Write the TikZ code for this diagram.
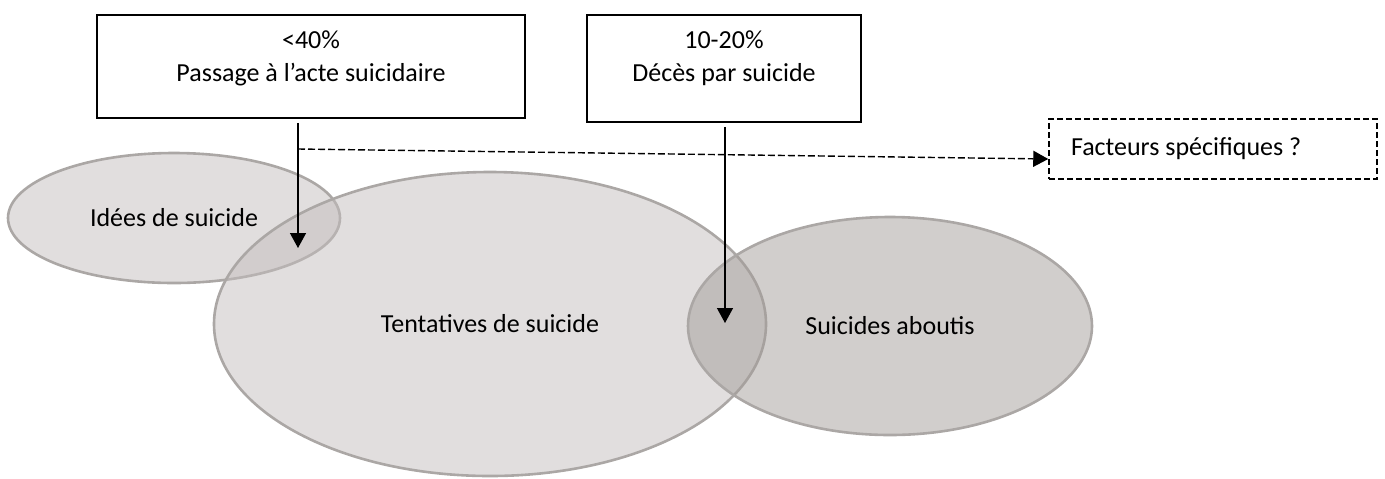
\documentclass[tikz,border=0pt]{standalone}
\usepackage{fontspec}
\setmainfont{Carlito}
\usetikzlibrary{shapes.geometric, arrows.meta, positioning}
\definecolor{lightfill}{RGB}{195,189,189}
\definecolor{darkfill}{RGB}{163,157,153}
\definecolor{rimgray}{RGB}{171,167,165}

\begin{document}
\begin{tikzpicture}[x=0.5pt, y=-0.5pt,
  every node/.style={font=\fontsize{13}{16.5}\selectfont},
  set/.style={ellipse, draw=rimgray, line width=1.3pt, fill opacity=0.5, text opacity=1, inner sep=0pt},
  box/.style={draw, line width=0.75pt, inner sep=0pt},
  dbox/.style={draw, dash pattern=on 3pt off 1.5pt, line width=0.75pt, inner sep=0pt},
  tip/.style={-{Triangle[length=7.5pt,width=8pt]}, line width=0.7pt}]
\useasboundingbox (0,0) rectangle (1385,478);
\node[set, fill=lightfill, minimum width=166pt, minimum height=65pt] (idees) at (174,218) {Idées de suicide};
\node[set, fill=lightfill, minimum width=276pt, minimum height=152pt] (tentatives) at (490,324) {Tentatives de suicide};
\node[set, fill=darkfill, minimum width=202pt, minimum height=109pt] (aboutis) at (890,326) {Suicides aboutis};
\node[box, minimum width=214pt, minimum height=51.5pt] (passage) at (311,66.5) {};
\node[align=center] (passagetxt) at (311,58.5) {<40\%\\Passage à l’acte suicidaire};
\node[box, minimum width=137pt, minimum height=53.5pt] (deces) at (724,68.5) {};
\node[align=center] (decestxt) at (724,58.5) {10-20\%\\Décès par suicide};
\node[dbox, minimum height=30pt, text width=142pt, inner xsep=11pt, align=flush left] (facteurs) at (1213,149) {Facteurs spécifiques ?};
\coordinate (end1) at (298,248);
\coordinate (end2) at (725,323);
\coordinate (split) at (298,149);
\draw[tip, shorten <=2pt] (passage.south -| end1) -- (end1);
\draw[tip, shorten <=2pt] (deces.south -| end2) -- (end2);
\draw[tip, dash pattern=on 3.5pt off 1.5pt] (split) -- ([yshift=-5pt]facteurs.west);
\end{tikzpicture}
\end{document}
